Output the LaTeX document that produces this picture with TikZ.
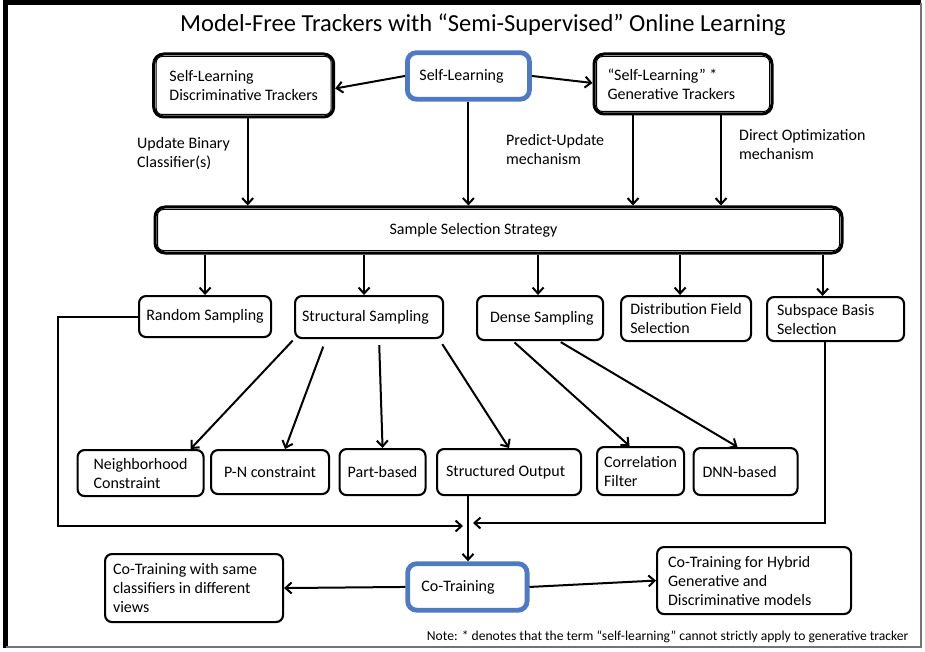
\documentclass[tikz,border=0pt]{standalone}
\usepackage{fontspec}
\setmainfont{Carlito}
\usepackage{tikz}
\usetikzlibrary{arrows.meta}
\usetikzlibrary{calc}
\usetikzlibrary{positioning}
\definecolor{slblue}{RGB}{78,122,196}

\begin{document}
\begin{tikzpicture}[x=1pt, y=-1pt,
    every node/.style={font=\fontsize{16}{19}\selectfont, inner ysep=2pt},
    box/.style={draw, line width=2.1pt, rounded corners=7pt, align=flush left, anchor=north west},
    dbox/.style={draw, line width=3pt, rounded corners=10pt, align=flush left, anchor=north west},
    inner/.style={line width=1pt, rounded corners=6pt},
    bluebox/.style={draw=slblue, line width=4.8pt, rounded corners=9pt, align=flush left, anchor=north west},
    arr/.style={-{Straight Barb[length=6pt, width=11pt]}, line width=2pt},
    lbl/.style={align=left, anchor=west, inner sep=0pt}]
  \useasboundingbox (0,0) rectangle (925,652);
  \draw[line width=5pt] (5.5,648) -- (5.5,3) -- (921,3);
  \draw[line width=2pt, black!55] (921,3) -- (921,647) -- (5.5,647);

  \node[font=\fontsize{24.5}{28}\selectfont] (title) at (483,25)
    {Model-Free Trackers with “Semi-Supervised” Online Learning};

  % top row
  \node[dbox, minimum width=180, minimum height=63] (disc) at (152.2,52.5)
    {Self-Learning\\Discriminative Trackers};
  \node[bluebox, text width=98pt, inner xsep=12pt, minimum height=46.5] (sl) at (405,50.3)
    {Self-Learning};
  \node[dbox, text width=151pt, inner xsep=13.5pt, minimum height=60] (gen) at (592.5,52.5)
    {“Self-Learning” *\\Generative Trackers};
  \node[dbox, text width=218pt, inner xsep=234.5pt, minimum height=46] (sss) at (153.5,205.5)
    {Sample Selection Strategy};
  \foreach \b in {disc, gen, sss}
    \draw[inner] ([shift={(4,4)}]\b.north west) rectangle ([shift={(-4,-4)}]\b.south east);

  \node[lbl] (lblupd) at (137,154) {Update Binary\\Classifier(s)};
  \node[lbl] (lblpred) at (506,150) {Predict-Update\\mechanism};
  \node[lbl] (lbldir) at (739,145) {Direct Optimization\\mechanism};

  \draw[arr] (sl.west) -- ([yshift=-3pt]disc.east);
  \draw[arr] (sl.east) -- ([yshift=1pt]gen.west);
  \draw[arr] ([xshift=4pt]disc.south) -- ([xshift=4pt]disc.south |- sss.north);
  \draw[arr] (sl.south) -- (sl.south |- sss.north);
  \draw[arr] ([xshift=-50pt]gen.south) -- ([xshift=-50pt]gen.south |- sss.north);
  \draw[arr] ([xshift=38pt]gen.south) -- ([xshift=38pt]gen.south |- sss.north);

  % sampling strategies
  \node[box, minimum width=132, minimum height=41] (rand) at (138,295) {Random Sampling};
  \node[box, text width=134pt, inner xsep=7pt, minimum height=42] (struct) at (294,295)
    {Structural Sampling};
  \node[box, text width=110pt, inner xsep=8pt, minimum height=44] (dense) at (476,295)
    {\hspace*{5pt}Dense Sampling};
  \node[box, minimum width=130, minimum height=45] (dist) at (620,295)
    {Distribution Field\\Selection};
  \node[box, text width=117pt, inner xsep=10pt, minimum height=44] (subsp) at (766,296)
    {Subspace Basis\\Selection};

  \foreach \n/\s in {rand/0, struct/-5, dense/-2, dist/-6, subsp/-13}
    \draw[arr] ([xshift=\s pt]\n.north |- sss.south) -- ([xshift=\s pt]\n.north);

  \node[box, minimum width=126, minimum height=46] (nbh) at (76.5,449)
    {Neighborhood\\Constraint};
  \node[box, minimum width=118, minimum height=44] (pn) at (210,449) {P-N constraint};
  \node[box, minimum width=86, minimum height=46] (part) at (338.5,448) {Part-based};
  \node[box, text width=126pt, inner xsep=9pt, minimum height=46] (so) at (436,448)
    {Structured Output};
  \node[box, minimum width=87, minimum height=48] (corr) at (596,446)
    {Correlation\\Filter};
  \node[box, text width=86pt, inner xsep=9pt, minimum height=47] (dnn) at (692.5,447)
    {DNN-based};

  \draw[arr, shorten <=2pt] ([xshift=-75pt]struct.south) -- ([xshift=50pt]nbh.north);
  \draw[arr, shorten <=8pt] ([xshift=-43pt]struct.south) -- ([xshift=15pt]pn.north);
  \draw[arr, shorten <=6pt] ([xshift=10pt]struct.south) -- (part.north);
  \draw[arr, shorten <=6pt] ([xshift=70pt]struct.south) -- (so.north);
  \draw[arr, shorten <=2pt] ([xshift=-27pt]dense.south) -- ([xshift=-11pt]corr.north);
  \draw[arr, shorten <=2pt] ([xshift=19pt]dense.south) -- ([xshift=-8pt]dnn.north);

  % co-training
  \coordinate (jn) at (468,524);
  \coordinate (lbend) at (58,526);
  \node[bluebox, text width=92pt, inner xsep=13.7pt, minimum height=46.5] (co) at (405.3,561.3)
    {Co-Training};
  \node[box, text width=162pt, inner xsep=8pt, minimum height=68] (cosame) at (104,553)
    {Co-Training with same\\classifiers in different\\views};
  \node[box, text width=172pt, inner xsep=11pt, minimum height=67] (cohyb) at (656,546)
    {Co-Training for Hybrid\\Generative and\\Discriminative models};

  \draw[arr] (rand.west) -| (lbend) -- ([xshift=-5pt, yshift=-2pt]jn);
  \draw[arr] ([xshift=-11pt]subsp.south) |- ([xshift=5pt, yshift=1pt]jn);
  \draw[arr] (so.south -| jn) -- (jn |- co.north);
  \draw[arr] (co.west) -- (cosame.east);
  \draw[arr] (co.east) -- (cohyb.west);

  \node[anchor=east, font=\fontsize{13.6}{16}\selectfont] (note) at (912,637)
    {Note: * denotes that the term “self-learning” cannot strictly apply to generative tracker};
\end{tikzpicture}
\end{document}
